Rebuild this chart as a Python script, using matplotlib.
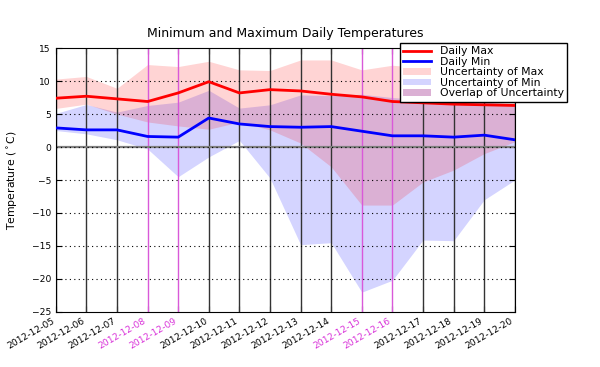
import datetime
import matplotlib
matplotlib.use("Agg")
import matplotlib.pyplot as plt
import matplotlib.dates as mdates
from matplotlib.lines import Line2D
from matplotlib.patches import Patch

dias = ["2012-12-05", "2012-12-06", "2012-12-07", "2012-12-08", "2012-12-09",
        "2012-12-10", "2012-12-11", "2012-12-12", "2012-12-13", "2012-12-14",
        "2012-12-15", "2012-12-16", "2012-12-17", "2012-12-18", "2012-12-19",
        "2012-12-20"]
t_max = [7.4, 7.7, 7.3, 6.9, 8.2, 9.9, 8.2, 8.7, 8.5, 8.0, 7.6, 6.9, 6.7, 6.5, 6.4, 6.3]
t_min = [2.9, 2.6, 2.6, 1.6, 1.5, 4.4, 3.5, 3.1, 3.0, 3.1, 2.4, 1.7, 1.7, 1.5, 1.8, 1.1]
max_sup = [10.3, 10.7, 8.9, 12.5, 12.2, 13.0, 11.7, 11.6, 13.2, 13.2, 11.7, 12.4, 12.0, 11.5, 11.0, 10.5]
max_inf = [5.85, 6.5, 5.0, 3.8, 3.2, 2.7, 3.8, 2.6, 0.6, -3.0, -8.8, -8.8, -5.3, -3.5, -1.0, 0.8]
min_sup = [5.1, 6.45, 5.3, 6.3, 6.8, 8.6, 5.9, 6.4, 7.9, 7.8, 8.0, 7.5, 7.2, 7.0, 6.8, 6.5]
min_inf = [2.5, 2.0, 1.1, -0.3, -4.5, -1.5, 1.0, -4.7, -14.8, -14.5, -22.0, -20.2, -14.1, -14.2, -8.0, -5.0]

fechas = [datetime.datetime.strptime(d, "%Y-%m-%d") for d in dias]
finde = [f.weekday() >= 5 for f in fechas]

a = 0.17
rosa = (1.0, 0.0, 0.0, a)
azul = (0.0, 0.0, 1.0, a)
# color que dan los dos rellenos transparentes donde se solapan
b = (1 - a, 1 - a, 1.0)
mezcla = (b[0] * (1 - a) + a, b[1] * (1 - a), b[2] * (1 - a))

fig = plt.figure(figsize=(6, 3.67), dpi=100)
ax = fig.add_axes([0.093, 0.150, 0.765, 0.719])

ax.fill_between(fechas, min_inf, min_sup, color=azul, lw=0)
ax.fill_between(fechas, max_inf, max_sup, color=rosa, lw=0)

for f, w in zip(fechas, finde):
    if w:
        ax.axvline(f, color=(0.85, 0.35, 0.85), lw=1, zorder=2)
    else:
        ax.axvline(f, color=(0.2, 0.2, 0.2), lw=1, zorder=2)

for y in range(-20, 15, 5):
    ax.axhline(y, color="black", lw=0.8, ls=(0, (1, 3)), zorder=2)
ax.axhline(0, color="gray", lw=1.6, zorder=2)
ax.axhline(0, color="black", lw=0.8, ls=(0, (1, 3)), zorder=2)

ax.plot(fechas, t_max, color="red", lw=2, zorder=3)
ax.plot(fechas, t_min, color="blue", lw=2, zorder=3)

ax.set_xlim(fechas[0], fechas[-1])
ax.set_ylim(-25, 15)
ax.set_yticks(range(-25, 20, 5))
ax.set_xticks(fechas)
ax.xaxis.set_major_formatter(mdates.DateFormatter("%Y-%m-%d"))
ax.tick_params(direction="in", top=True, right=True, labelsize=6.6, length=4)
for lab, w in zip(ax.get_xticklabels(), finde):
    lab.set_rotation(30)
    lab.set_ha("right")
    if w:
        lab.set_color((0.85, 0.2, 0.85))

ax.set_title("Minimum and Maximum Daily Temperatures", fontsize=9, pad=8)
ax.set_ylabel(r"Temperature ($^\circ$C)", fontsize=7.8, labelpad=8)

handles = [Line2D([], [], color="red", lw=2),
           Line2D([], [], color="blue", lw=2),
           Patch(color=rosa, lw=0),
           Patch(color=azul, lw=0),
           Patch(color=mezcla, lw=0)]
labels = ["Daily Max", "Daily Min", "Uncertainty of Max",
          "Uncertainty of Min", "Overlap of Uncertainty"]
leg = fig.legend(handles, labels, loc="upper right",
                 bbox_to_anchor=(567 / 600, 1 - 43 / 367),
                 fontsize=7.8, fancybox=False, framealpha=1,
                 borderpad=0.3, labelspacing=0.05, handlelength=2.6,
                 handleheight=0.6, borderaxespad=0)
leg.get_frame().set_edgecolor("black")

fig.savefig("out.png", dpi=100)
